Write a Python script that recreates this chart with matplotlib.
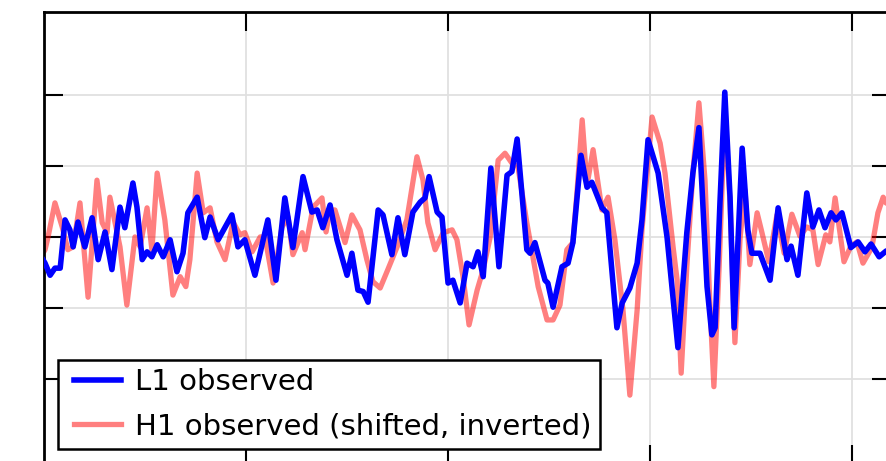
import matplotlib
matplotlib.use("Agg")
import matplotlib.pyplot as plt
from matplotlib.lines import Line2D
from matplotlib.legend_handler import HandlerLine2D

# time in ms, whitened strain (arbitrary units)
t_L1 = [-1.0, 0.25, 1.5, 2.7, 4.0, 5.2, 6.4, 7.2, 8.4, 10.1, 11.9, 13.4, 15.1, 16.8,
        18.8, 20.0, 22.0, 23.0, 24.3, 25.5, 26.7, 28.0, 29.5, 31.2, 32.9, 34.4, 35.6,
        37.9, 39.8, 41.1, 43.1, 46.5, 48.0, 49.7, 52.2, 55.4, 57.4, 59.6, 61.6, 64.1,
        66.3, 67.6, 69.0, 70.8, 72.5, 75.0, 76.2, 77.7, 79.0, 80.2, 82.7, 83.9, 86.1,
        87.6, 89.3, 91.3, 93.1, 94.3, 95.3, 97.3, 98.5, 100.0, 101.2, 103.0, 104.7,
        106.2, 107.4, 108.7, 110.6, 112.6, 114.6, 115.8, 117.1, 119.5, 120.3, 121.5,
        124.0, 124.7, 126.0, 128.2, 129.7, 130.9, 132.9, 134.4, 135.6, 138.1, 139.3,
        141.8, 143.1, 145.0, 146.8, 148.0, 149.5, 152.0, 154.2, 156.9, 159.1, 160.6,
        162.1, 164.1, 165.3, 166.1, 167.3, 168.5, 169.8, 170.8, 172.8, 174.2, 175.2,
        177.2, 179.7, 181.7, 183.9, 184.9, 186.6, 188.8, 190.3, 191.8, 193.3, 194.8,
        196.0, 197.5, 199.7, 201.5, 203.2, 204.7, 206.7, 208.4, 211.0]
L1 = [-0.25, -0.37, -0.54, -0.44, -0.44, 0.24, 0.10, -0.14, 0.21, -0.14, 0.27, -0.32,
      0.07, -0.46, 0.42, 0.13, 0.76, 0.42, -0.32, -0.21, -0.28, -0.11, -0.28, -0.04,
      -0.49, -0.23, 0.34, 0.56, -0.01, 0.28, -0.04, 0.31, -0.14, -0.04, -0.54, 0.24,
      -0.61, 0.55, -0.15, 0.85, 0.35, 0.38, 0.13, 0.45, -0.04, -0.54, -0.23, -0.75,
      -0.77, -0.92, 0.38, 0.31, -0.25, 0.27, -0.25, 0.35, 0.49, 0.55, 0.85, 0.35, 0.28,
      -0.65, -0.61, -0.93, -0.37, -0.42, -0.21, -0.56, 0.97, -0.42, 0.87, 0.92, 1.38,
      -0.18, -0.23, -0.08, -0.61, -0.65, -0.99, -0.42, -0.37, -0.08, 1.15, 0.70, 0.77,
      0.41, 0.34, -1.28, -0.93, -0.72, -0.37, 0.24, 1.37, 0.90, 0.00, -1.56, 0.06, 0.90,
      1.54, -0.70, -1.38, -1.28, 0.48, 2.04, 0.56, -1.28, 1.25, 0.10, -0.23, -0.23,
      -0.61, 0.41, -0.32, -0.13, -0.54, 0.62, 0.14, 0.38, 0.13, 0.34, 0.24, 0.34, -0.15,
      -0.07, -0.21, -0.10, -0.28, -0.20, -0.15]

t_H1 = [-1.0, 0.25, 1.0, 2.7, 4.5, 5.9, 7.2, 8.9, 10.9, 13.1, 14.4, 15.6, 16.3, 18.8,
        20.5, 22.5, 23.8, 25.5, 26.7, 28.0, 29.9, 31.9, 33.7, 35.1, 36.1, 37.9, 39.4,
        41.1, 42.8, 44.8, 46.8, 48.5, 49.7, 51.5, 53.5, 54.7, 56.7, 58.9, 60.4, 61.6,
        63.9, 64.6, 66.6, 68.8, 69.8, 70.8, 72.0, 74.5, 76.2, 78.2, 79.9, 81.4, 83.2,
        85.1, 87.4, 89.8, 92.3, 93.8, 95.0, 96.8, 98.8, 101.0, 102.2, 103.7, 105.2,
        107.2, 108.7, 110.4, 112.4, 114.1, 115.8, 117.3, 119.5, 121.0, 122.3, 124.5,
        126.0, 127.7, 129.4, 130.9, 131.9, 133.2, 134.4, 135.9, 138.1, 139.6, 141.3,
        143.3, 145.0, 146.8, 148.0, 150.5, 152.5, 153.7, 155.7, 156.7, 157.7, 159.1,
        160.6, 162.1, 163.6, 164.8, 165.8, 167.1, 168.5, 169.8, 171.0, 172.3, 173.5,
        174.7, 176.5, 177.7, 179.4, 181.4, 183.2, 185.1, 187.1, 188.8, 190.3, 191.6,
        193.5, 194.5, 195.8, 198.0, 199.7, 201.2, 202.7, 204.9, 206.4, 207.7, 208.4,
        211.0]
H1 = [-0.30, -0.18, 0.00, 0.48, 0.14, -0.18, -0.14, 0.48, -0.85, 0.80, 0.20, 0.06,
      0.56, -0.14, -0.96, 0.00, -0.14, 0.41, -0.18, 0.90, 0.24, -0.82, -0.56, -0.70,
      -0.32, 0.90, 0.34, 0.41, -0.07, -0.32, 0.21, 0.03, 0.06, -0.21, 0.00, 0.00, -0.65,
      0.14, 0.28, -0.25, 0.06, -0.18, 0.42, 0.55, 0.07, 0.38, 0.38, -0.08, 0.31, 0.10,
      -0.32, -0.63, -0.72, -0.46, -0.14, 0.24, 1.13, 0.80, 0.20, -0.18, 0.06, 0.10,
      -0.04, -0.56, -1.24, -0.75, -0.46, -0.01, 1.08, 1.18, 1.04, 0.99, 0.20, -0.28,
      -0.70, -1.17, -1.17, -0.96, -0.18, -0.08, 0.62, 1.65, 0.73, 1.23, 0.38, 0.56,
      -0.04, -1.03, -2.23, -1.03, 0.10, 1.69, 1.32, 0.90, -0.14, -0.61, -1.92, -0.42,
      0.90, 1.89, 0.80, -0.93, -2.11, -0.42, 1.75, 0.48, -1.49, 0.00, 0.66, -0.39, 0.34,
      0.06, -0.35, 0.31, -0.23, 0.32, 0.01, 0.14, 0.10, -0.39, 0.03, -0.07, 0.55, -0.35,
      -0.13, -0.07, -0.37, -0.15, 0.34, 0.56, 0.48, 0.40]

fig = plt.figure(figsize=(8.86, 4.61), dpi=100)
ax = fig.add_axes([0.0497, -0.0065, 0.956, 0.9805])

ax.plot(t_H1, H1, color="red", alpha=0.5, lw=3.8, solid_joinstyle="round",
        label="H1 observed (shifted, inverted)", zorder=2)
ax.plot(t_L1, L1, color="blue", lw=4.0, solid_joinstyle="round",
        label="L1 observed", zorder=3)

ax.set_xlim(0, 209.65)
ax.set_ylim(-3.2, 3.17)
ax.set_xticks([50, 100, 150, 200])
ax.set_yticks([-2, -1, 0, 1, 2])
ax.grid(True, color="#e0e0e0", lw=1.3)
ax.set_axisbelow(True)
ax.tick_params(direction="in", length=14, width=1.5, top=True, right=True,
               labelleft=False, labelbottom=False, labeltop=False, labelright=False)
for s in ax.spines.values():
    s.set_linewidth(2)

h, l = ax.get_legend_handles_labels()
leg = ax.legend(h[::-1], l[::-1], loc="lower left", bbox_to_anchor=(0.0165, 0.033),
                borderaxespad=0, fontsize=21, fancybox=False, framealpha=1,
                edgecolor="black", handlelength=1.86, handletextpad=0.48,
                borderpad=0.3, labelspacing=0.55,
                handler_map={Line2D: HandlerLine2D(xpad=0.25)})
leg.get_frame().set_linewidth(1.8)

fig.savefig("out.png", dpi=100)
